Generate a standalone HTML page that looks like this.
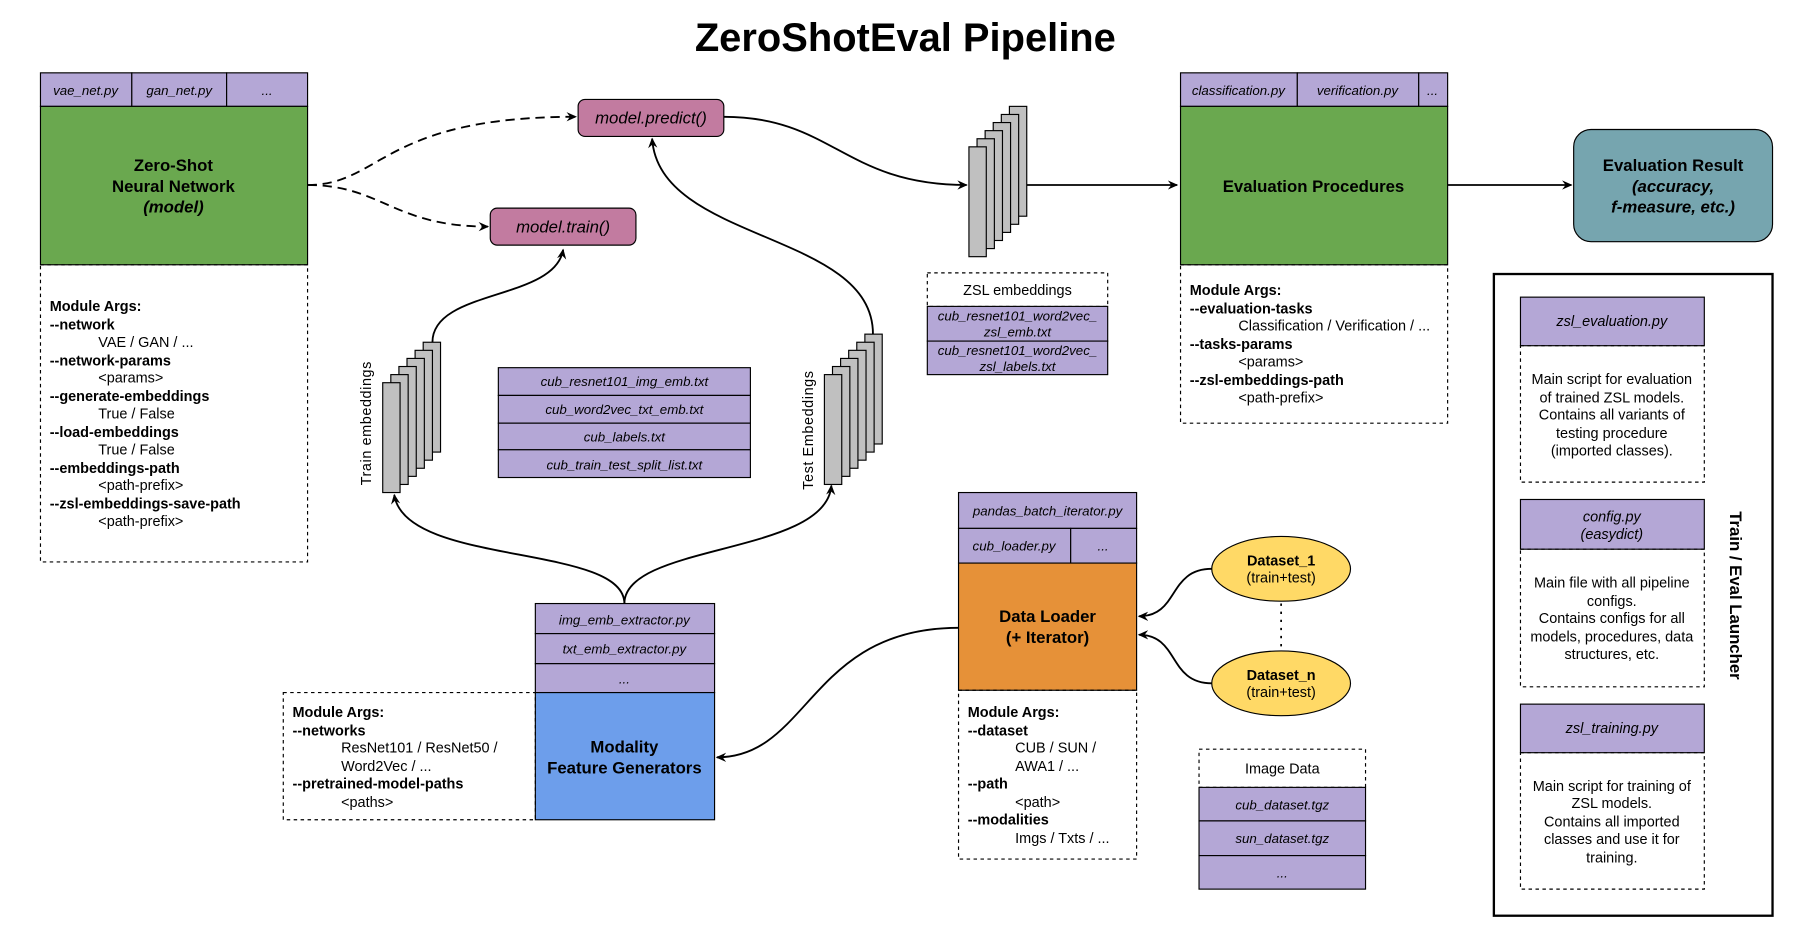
<!DOCTYPE html>
<html><head><meta charset="utf-8"><style>
html,body{margin:0;padding:0;background:#fff}
svg{display:block}
text{font-family:"Liberation Sans",Arial,sans-serif;font-size:12.5px;fill:#000}
.i{font-style:italic;font-size:11.5px}
.b{font-weight:bold}
.t{font-weight:bold;font-size:14.5px}
.p{fill:#b4a7d6;stroke:#000;stroke-width:1}
.d{fill:none;stroke:#000;stroke-width:1;stroke-dasharray:3,3}
.s{fill:#c0c0c0;stroke:#000;stroke-width:1}
.l{fill:none;stroke:#000;stroke-width:1.6}
</style></head><body>
<svg width="1813" height="940" viewBox="0 0 1568 813" preserveAspectRatio="none" xmlns="http://www.w3.org/2000/svg">
<defs><marker id="a" markerWidth="10" markerHeight="10" refX="8" refY="5" orient="auto" markerUnits="userSpaceOnUse"><path d="M0,1 L9,5 L0,9 L3,5z" fill="#000"/></marker></defs>
<text x="783" y="44" text-anchor="middle" style="font-size:34.5px;font-weight:bold">ZeroShotEval Pipeline</text>

<!-- Zero-shot NN -->
<rect class="p" x="35" y="63" width="79" height="29"/><rect class="p" x="114" y="63" width="82" height="29"/><rect class="p" x="196" y="63" width="70" height="29"/>
<text class="i" x="74" y="82" text-anchor="middle">vae_net.py</text><text class="i" x="155" y="82" text-anchor="middle">gan_net.py</text><text class="i" x="231" y="82" text-anchor="middle">...</text>
<rect x="35" y="92" width="231" height="137" fill="#6aa84f" stroke="#000"/>
<text class="t" x="150" y="148" text-anchor="middle">Zero-Shot</text><text class="t" x="150" y="166" text-anchor="middle">Neural Network</text><text class="t" x="150" y="184" text-anchor="middle" font-style="italic">(model)</text>
<rect class="d" x="35" y="229" width="231" height="257"/>
<g><text class="b" x="43" y="269">Module Args:</text><text class="b" x="43" y="285">--network</text><text x="85" y="300">VAE / GAN / ...</text><text class="b" x="43" y="316">--network-params</text><text x="85" y="331">&lt;params&gt;</text><text class="b" x="43" y="347">--generate-embeddings</text><text x="85" y="362">True / False</text><text class="b" x="43" y="378">--load-embeddings</text><text x="85" y="393">True / False</text><text class="b" x="43" y="409">--embeddings-path</text><text x="85" y="424">&lt;path-prefix&gt;</text><text class="b" x="43" y="440">--zsl-embeddings-save-path</text><text x="85" y="455">&lt;path-prefix&gt;</text></g>

<!-- model predict/train -->
<rect x="500" y="86" width="126" height="32" rx="6" fill="#c27ba0" stroke="#000"/><text x="563" y="107" text-anchor="middle" style="font-style:italic;font-size:14.5px">model.predict()</text>
<rect x="424" y="180" width="126" height="32" rx="6" fill="#c27ba0" stroke="#000"/><text x="487" y="201" text-anchor="middle" style="font-style:italic;font-size:14.5px">model.train()</text>
<path class="l" d="M266,160 C330,160 330,101 498,101" stroke-dasharray="8,5" marker-end="url(#a)"/>
<path class="l" d="M266,160 C330,160 340,196 422,196" stroke-dasharray="8,5" marker-end="url(#a)"/>

<!-- ZSL stack -->
<g><rect class="s" x="873" y="92" width="15" height="95"/><rect class="s" x="866" y="99" width="15" height="95"/><rect class="s" x="859" y="106" width="15" height="95"/><rect class="s" x="852" y="113" width="15" height="95"/><rect class="s" x="845" y="120" width="15" height="95"/><rect class="s" x="838" y="127" width="15" height="95"/></g>
<path class="l" d="M626,101 C720,101 730,160 836,160" marker-end="url(#a)"/>
<path class="l" d="M888,160 L1018,160" marker-end="url(#a)"/>
<rect class="d" x="802" y="236" width="156" height="29"/><text x="880" y="255" text-anchor="middle">ZSL embeddings</text>
<rect class="p" x="802" y="265" width="156" height="30"/><rect class="p" x="802" y="295" width="156" height="29"/>
<text class="i" x="880" y="277" text-anchor="middle">cub_resnet101_word2vec_</text><text class="i" x="880" y="291" text-anchor="middle">zsl_emb.txt</text>
<text class="i" x="880" y="307" text-anchor="middle">cub_resnet101_word2vec_</text><text class="i" x="880" y="321" text-anchor="middle">zsl_labels.txt</text>

<!-- Eval procedures -->
<rect class="p" x="1021" y="63" width="101" height="29"/><rect class="p" x="1122" y="63" width="105" height="29"/><rect class="p" x="1227" y="63" width="25" height="29"/>
<text class="i" x="1071" y="82" text-anchor="middle">classification.py</text><text class="i" x="1174" y="82" text-anchor="middle">verification.py</text><text class="i" x="1239" y="82" text-anchor="middle">...</text>
<rect x="1021" y="92" width="231" height="137" fill="#6aa84f" stroke="#000"/>
<text class="t" x="1136" y="166" text-anchor="middle">Evaluation Procedures</text>
<rect class="d" x="1021" y="229" width="231" height="137"/>
<text class="b" x="1029" y="255">Module Args:</text><text class="b" x="1029" y="271">--evaluation-tasks</text><text x="1071" y="286">Classification / Verification / ...</text><text class="b" x="1029" y="302">--tasks-params</text><text x="1071" y="317">&lt;params&gt;</text><text class="b" x="1029" y="333">--zsl-embeddings-path</text><text x="1071" y="348">&lt;path-prefix&gt;</text>
<path class="l" d="M1252,160 L1359,160" marker-end="url(#a)"/>
<rect x="1361" y="112" width="172" height="97" rx="15" fill="#76a5af" stroke="#000"/>
<text class="t" x="1447" y="148" text-anchor="middle">Evaluation Result</text><text class="t" x="1447" y="166" text-anchor="middle" font-style="italic">(accuracy,</text><text class="t" x="1447" y="184" text-anchor="middle" font-style="italic">f-measure, etc.)</text>

<!-- Launcher -->
<rect x="1292" y="237" width="241" height="555" fill="none" stroke="#000" stroke-width="2"/>
<text class="t" x="1496" y="515" text-anchor="middle" transform="rotate(90 1496 515)">Train / Eval Launcher</text>
<rect class="p" x="1315" y="257" width="159" height="42"/><text class="i" x="1394" y="282" text-anchor="middle" style="font-size:12.5px">zsl_evaluation.py</text>
<rect class="d" x="1315" y="299" width="159" height="118"/>
<g text-anchor="middle"><text x="1394" y="332">Main script for evaluation</text><text x="1394" y="348">of trained ZSL models.</text><text x="1394" y="363">Contains all variants of</text><text x="1394" y="379">testing procedure</text><text x="1394" y="394">(imported classes).</text></g>
<rect class="p" x="1315" y="432" width="159" height="43"/><text class="i" x="1394" y="451" text-anchor="middle" style="font-size:12.5px">config.py</text><text class="i" x="1394" y="466" text-anchor="middle" style="font-size:12.5px">(easydict)</text>
<rect class="d" x="1315" y="475" width="159" height="119"/>
<g text-anchor="middle"><text x="1394" y="508">Main file with all pipeline</text><text x="1394" y="524">configs.</text><text x="1394" y="539">Contains configs for all</text><text x="1394" y="555">models, procedures, data</text><text x="1394" y="570">structures, etc.</text></g>
<rect class="p" x="1315" y="609" width="159" height="42"/><text class="i" x="1394" y="634" text-anchor="middle" style="font-size:12.5px">zsl_training.py</text>
<rect class="d" x="1315" y="651" width="159" height="118"/>
<g text-anchor="middle"><text x="1394" y="684">Main script for training of</text><text x="1394" y="699">ZSL models.</text><text x="1394" y="715">Contains all imported</text><text x="1394" y="730">classes and use it for</text><text x="1394" y="746">training.</text></g>

<!-- Train stack -->
<g><rect class="s" x="366" y="296" width="15" height="95"/><rect class="s" x="359" y="303" width="15" height="95"/><rect class="s" x="352" y="310" width="15" height="95"/><rect class="s" x="345" y="317" width="15" height="95"/><rect class="s" x="338" y="324" width="15" height="95"/><rect class="s" x="331" y="331" width="15" height="95"/></g>
<text x="321" y="366" text-anchor="middle" transform="rotate(-90 321 366)" style="letter-spacing:0.5px">Train embeddings</text>
<g><rect class="s" x="748" y="289" width="15" height="95"/><rect class="s" x="741" y="296" width="15" height="95"/><rect class="s" x="734" y="303" width="15" height="95"/><rect class="s" x="727" y="310" width="15" height="95"/><rect class="s" x="720" y="317" width="15" height="95"/><rect class="s" x="713" y="324" width="15" height="95"/></g>
<text x="703" y="372" text-anchor="middle" transform="rotate(-90 703 372)" style="letter-spacing:0.5px">Test Embeddings</text>
<path class="l" d="M374,296 C374,250 480,260 487,216" marker-end="url(#a)"/>
<path class="l" d="M755,289 C755,200 570,210 564,120" marker-end="url(#a)"/>

<!-- files table -->
<rect class="p" x="431" y="318" width="218" height="24"/><rect class="p" x="431" y="342" width="218" height="24"/><rect class="p" x="431" y="366" width="218" height="23"/><rect class="p" x="431" y="389" width="218" height="24"/>
<g text-anchor="middle"><text class="i" x="540" y="334">cub_resnet101_img_emb.txt</text><text class="i" x="540" y="358">cub_word2vec_txt_emb.txt</text><text class="i" x="540" y="382">cub_labels.txt</text><text class="i" x="540" y="406">cub_train_test_split_list.txt</text></g>

<!-- Feature gen -->
<rect class="p" x="463" y="522" width="155" height="26"/><rect class="p" x="463" y="548" width="155" height="26"/><rect class="p" x="463" y="574" width="155" height="25"/>
<g text-anchor="middle"><text class="i" x="540" y="540">img_emb_extractor.py</text><text class="i" x="540" y="565">txt_emb_extractor.py</text><text class="i" x="540" y="591">...</text></g>
<rect x="463" y="599" width="155" height="110" fill="#6d9eeb" stroke="#000"/>
<text class="t" x="540" y="651" text-anchor="middle">Modality</text><text class="t" x="540" y="669" text-anchor="middle">Feature Generators</text>
<rect class="d" x="245" y="599" width="218" height="110"/>
<text class="b" x="253" y="620">Module Args:</text><text class="b" x="253" y="636">--networks</text><text x="295" y="651">ResNet101 / ResNet50 /</text><text x="295" y="667">Word2Vec / ...</text><text class="b" x="253" y="682">--pretrained-model-paths</text><text x="295" y="698">&lt;paths&gt;</text>
<path class="l" d="M540,522 C540,470 350,490 341,428" marker-end="url(#a)"/>
<path class="l" d="M540,522 C540,470 715,480 719,420" marker-end="url(#a)"/>

<!-- Data loader -->
<rect class="p" x="829" y="426" width="154" height="31"/><rect class="p" x="829" y="457" width="97" height="30"/><rect class="p" x="926" y="457" width="57" height="30"/>
<text class="i" x="906" y="446" text-anchor="middle">pandas_batch_iterator.py</text><text class="i" x="877" y="476" text-anchor="middle">cub_loader.py</text><text class="i" x="954" y="476" text-anchor="middle">...</text>
<rect x="829" y="487" width="154" height="110" fill="#e69138" stroke="#000"/>
<text class="t" x="906" y="538" text-anchor="middle">Data Loader</text><text class="t" x="906" y="556" text-anchor="middle">(+ Iterator)</text>
<rect class="d" x="829" y="597" width="154" height="146"/>
<text class="b" x="837" y="620">Module Args:</text><text class="b" x="837" y="636">--dataset</text><text x="878" y="651">CUB / SUN /</text><text x="878" y="667">AWA1 / ...</text><text class="b" x="837" y="682">--path</text><text x="878" y="698">&lt;path&gt;</text><text class="b" x="837" y="713">--modalities</text><text x="878" y="729">Imgs / Txts / ...</text>
<path class="l" d="M829,543 C700,543 700,655 620,655" marker-end="url(#a)"/>

<ellipse cx="1108" cy="492" rx="60" ry="28" fill="#ffd966" stroke="#000"/><text class="b" x="1108" y="489" text-anchor="middle">Dataset_1</text><text x="1108" y="504" text-anchor="middle">(train+test)</text>
<ellipse cx="1108" cy="591" rx="60" ry="28" fill="#ffd966" stroke="#000"/><text class="b" x="1108" y="588" text-anchor="middle">Dataset_n</text><text x="1108" y="603" text-anchor="middle">(train+test)</text>
<line x1="1108" y1="522" x2="1108" y2="562" stroke="#000" stroke-dasharray="2,5" stroke-width="1.5"/>
<path class="l" d="M1048,492 C1010,492 1020,533 985,533" marker-end="url(#a)"/>
<path class="l" d="M1048,591 C1010,591 1020,549 985,549" marker-end="url(#a)"/>

<rect class="d" x="1037" y="648" width="144" height="33"/><text x="1109" y="669" text-anchor="middle">Image Data</text>
<rect class="p" x="1037" y="681" width="144" height="29"/><rect class="p" x="1037" y="710" width="144" height="30"/><rect class="p" x="1037" y="740" width="144" height="29"/>
<g text-anchor="middle"><text class="i" x="1109" y="700">cub_dataset.tgz</text><text class="i" x="1109" y="729">sun_dataset.tgz</text><text class="i" x="1109" y="759">...</text></g>
</svg>
</body></html>
